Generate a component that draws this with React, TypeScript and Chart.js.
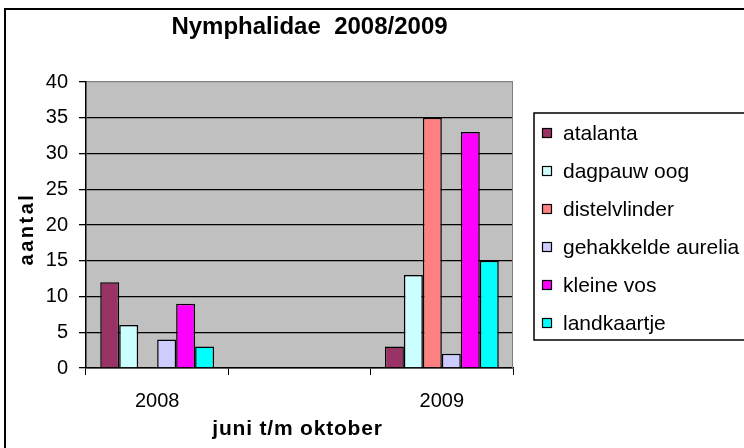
import { useEffect, useRef } from 'react';
import { Chart, registerables } from 'chart.js';

Chart.register(...registerables);

const TITLE = 'Nymphalidae  2008/2009';
const X_TITLE = 'juni t/m oktober';
const Y_TITLE = 'aantal';

const categories = ['2008', '', '2009'];
const seriesNames = ['atalanta', 'dagpauw oog', 'distelvlinder', 'gehakkelde aurelia', 'kleine vos', 'landkaartje'];
const atalanta = [12, null, 3];
const dagpauwOog = [6, null, 13];
const distelvlinder = [0, null, 35];
const gehakkeldeAurelia = [4, null, 2];
const kleineVos = [9, null, 33];
const landkaartje = [3, null, 15];
const seriesValues = [atalanta, dagpauwOog, distelvlinder, gehakkeldeAurelia, kleineVos, landkaartje];
const seriesColors = ['#993366', '#CCFFFF', '#FF8080', '#CCCCFF', '#FF00FF', '#00FFFF'];
const Y_MIN = 0;
const Y_MAX = 40;
const Y_STEP = 5;

const FONT = '"Liberation Sans", Arial, sans-serif';

const excelPlugin = {
  id: 'excelLook',
  beforeDraw(chart: any) {
    const { ctx, chartArea: a } = chart;
    ctx.save();
    ctx.fillStyle = '#FFFFFF';
    ctx.fillRect(0, 0, chart.width, chart.height);
    ctx.fillStyle = '#C0C0C0';
    ctx.fillRect(a.left, a.top, a.right - a.left, a.bottom - a.top);
    ctx.restore();
  },
  afterDraw(chart: any) {
    const { ctx, chartArea: a } = chart;
    ctx.save();
    // outer chart border
    ctx.strokeStyle = '#000';
    ctx.lineWidth = 2;
    ctx.strokeRect(5, 9, chart.width + 20, chart.height + 20);
    // plot area right border
    ctx.strokeStyle = '#808080';
    ctx.lineWidth = 1;
    ctx.beginPath();
    ctx.moveTo(a.right - 0.5, a.top);
    ctx.lineTo(a.right - 0.5, a.bottom);
    ctx.stroke();
    // title
    ctx.fillStyle = '#000';
    ctx.font = 'bold 24px ' + FONT;
    ctx.textAlign = 'center';
    ctx.textBaseline = 'middle';
    ctx.fillText(TITLE, a.left + (a.right - a.left) / 2 + 10, 27);
    // x axis title (Excel-style letter spacing)
    ctx.font = 'bold 21px ' + FONT;
    (ctx as any).letterSpacing = '0.8px';
    ctx.fillText(X_TITLE, a.left + (a.right - a.left) / 2 - 2, 429);
    // y axis title
    ctx.save();
    ctx.translate(27, (a.top + a.bottom) / 2 + 5);
    ctx.rotate(-Math.PI / 2);
    ctx.font = 'bold 20px ' + FONT;
    (ctx as any).letterSpacing = '2.5px';
    ctx.fillText(Y_TITLE, 1, 0);
    ctx.restore();
    (ctx as any).letterSpacing = '0px';
    // legend
    const lx = a.right + 21;
    const ly = a.top + 31;
    const lh = 227;
    ctx.strokeStyle = '#000';
    ctx.lineWidth = 1.5;
    ctx.strokeRect(lx, ly, chart.width - lx + 20, lh);
    ctx.font = '21px ' + FONT;
    ctx.textAlign = 'left';
    chart.data.datasets.forEach((ds: any, i: number) => {
      const cy = ly + 20 + i * 38;
      ctx.fillStyle = ds.backgroundColor;
      ctx.fillRect(lx + 8, cy - 5, 10, 10);
      ctx.strokeStyle = '#000';
      ctx.lineWidth = 1.2;
      ctx.strokeRect(lx + 8.5, cy - 4.5, 9, 9);
      ctx.fillStyle = '#000';
      ctx.fillText(ds.label, lx + 29, cy + 1);
    });
    ctx.restore();
  },
};

export default function App() {
  const ref = useRef<HTMLCanvasElement>(null);
  useEffect(() => {
    document.body.style.margin = '0';
    document.body.style.overflow = 'hidden';
    if (!ref.current) return;
    const chart = new Chart(ref.current, {
      type: 'bar',
      data: {
        labels: categories,
        datasets: seriesNames.map((name, i) => ({
          label: name,
          data: seriesValues[i],
          backgroundColor: seriesColors[i],
          borderColor: '#000',
          borderWidth: 1.5,
          categoryPercentage: 0.8,
          barPercentage: 1.0,
        })),
      },
      options: {
        responsive: false,
        maintainAspectRatio: false,
        animation: false,
        layout: { padding: { top: 82, right: 231, left: 0, bottom: 0 } },
        plugins: {
          legend: { display: false },
          title: { display: false },
          tooltip: { enabled: false },
        },
        scales: {
          x: {
            offset: true,
            grid: {
              display: true,
              offset: true,
              drawOnChartArea: false,
              drawTicks: true,
              tickLength: 7,
              color: '#000',
            },
            border: { display: true, color: '#000', width: 1.5 },
            ticks: { color: '#000', font: { family: FONT, size: 20 }, padding: 14, maxRotation: 0, autoSkip: false },
            title: { display: false },
            afterFit: (s: any) => { s.height = 80; },
          },
          y: {
            min: Y_MIN,
            max: Y_MAX,
            ticks: { stepSize: Y_STEP, color: '#000', font: { family: FONT, size: 20 }, padding: 11 },
            grid: {
              color: (c: any) => (c.tick && c.tick.value === Y_MAX ? '#808080' : '#000'),
              tickColor: '#000',
              tickLength: 7,
              lineWidth: 1.3,
            },
            border: { display: true, color: '#000', width: 1.5 },
            title: { display: false },
            afterFit: (s: any) => { s.width = 86; },
          },
        },
      } as any,
      plugins: [excelPlugin],
    });
    return () => chart.destroy();
  }, []);
  return <canvas ref={ref} width={744} height={448} style={{ display: 'block', width: 744, height: 448 }} />;
}
